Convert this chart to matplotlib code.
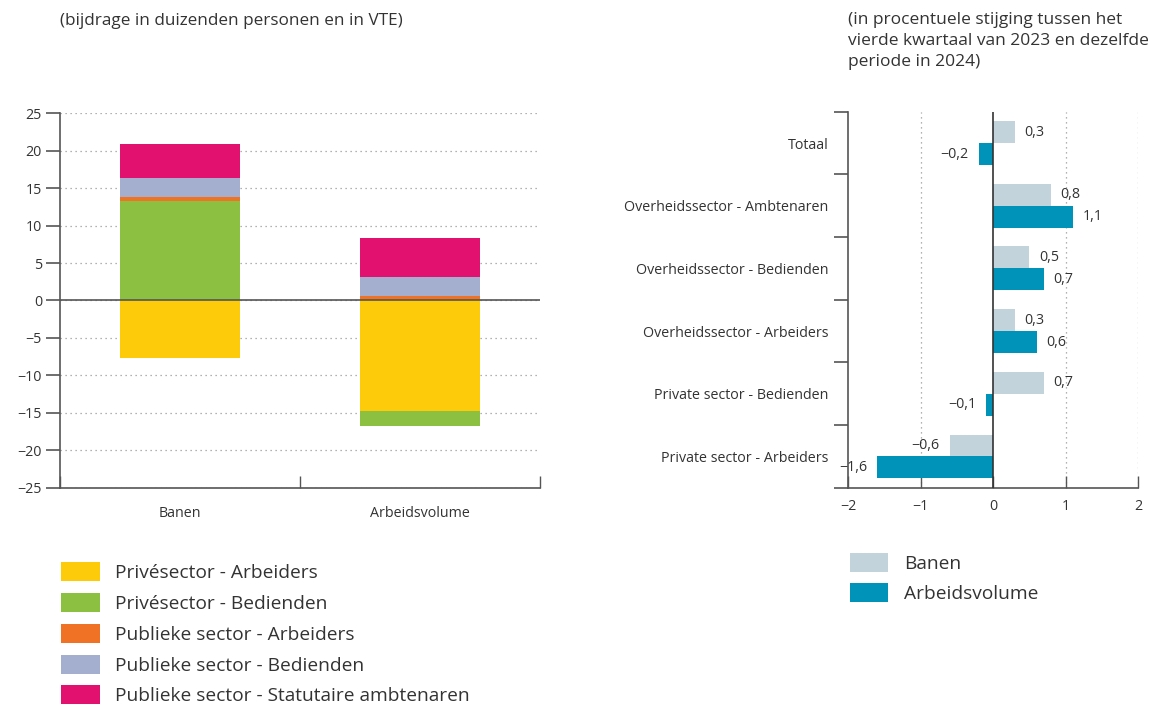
import matplotlib.pyplot as plt
from matplotlib.patches import Patch
import numpy as np

plt.rcParams['font.family'] = ['Open Sans', 'DejaVu Sans']

# left chart: contributions (thousands of persons / FTE)
groups = ['Banen', 'Arbeidsvolume']
series = ['Privésector - Arbeiders', 'Privésector - Bedienden',
          'Publieke sector - Arbeiders', 'Publieke sector - Bedienden',
          'Publieke sector - Statutaire ambtenaren']
priv_arb = [-7.7, -14.7]
priv_bed = [13.3, -2.0]
pub_arb = [0.5, 0.6]
pub_bed = [2.6, 2.5]
pub_stat = [4.5, 5.2]
colors_left = ['#FDCB0A', '#8BC040', '#F07225', '#A4AFD0', '#E2106F']

# right chart: percentage growth
categories = ['Totaal', 'Overheidssector - Ambtenaren', 'Overheidssector - Bedienden',
              'Overheidssector - Arbeiders', 'Private sector - Bedienden',
              'Private sector - Arbeiders']
banen = [0.3, 0.8, 0.5, 0.3, 0.7, -0.6]
volume = [-0.2, 1.1, 0.7, 0.6, -0.1, -1.6]
col_banen = '#C2D3DC'
col_volume = '#0093BA'

txt = '#333333'
spine_col = '#555555'
fs_tick = 10.3

fig = plt.figure(figsize=(11.53, 7.07), dpi=100)

# ---------------- left chart ----------------
ax = fig.add_axes([0.052, 0.310, 0.416, 0.530])
x = np.arange(len(groups))
pos_base = np.zeros(len(groups))
neg_base = np.zeros(len(groups))
for vals, c in zip([priv_arb, priv_bed, pub_arb, pub_bed, pub_stat], colors_left):
    vals = np.array(vals)
    base = np.where(vals >= 0, pos_base, neg_base)
    ax.bar(x, vals, 0.5, bottom=base, color=c, zorder=3)
    pos_base = pos_base + np.where(vals >= 0, vals, 0)
    neg_base = neg_base + np.where(vals < 0, vals, 0)

ax.set_xlim(-0.5, 1.5)
ax.set_ylim(-25, 25)
ax.set_yticks(np.arange(-25, 26, 5))
ax.set_yticklabels([str(v).replace('-', '\u2212') for v in range(-25, 26, 5)])
ax.yaxis.grid(True, linestyle=(0, (1, 3)), color='#999999', linewidth=0.9, zorder=0)
ax.axhline(0, color=spine_col, linewidth=1.2, zorder=4)
ax.set_xticks([-0.5, 0.5, 1.5])
ax.set_xticklabels([])
ax.set_xticks(x, minor=True)
ax.set_xticklabels(groups, minor=True)
ax.tick_params(axis='x', which='major', direction='in', length=9, color=spine_col, width=1)
ax.tick_params(axis='x', which='minor', length=0, pad=13, labelsize=fs_tick, labelcolor=txt)
ax.tick_params(axis='y', direction='out', length=10, color=spine_col, width=1.2,
               labelsize=fs_tick, labelcolor=txt, pad=3)
for s in ['top', 'right']:
    ax.spines[s].set_visible(False)
for s in ['left', 'bottom']:
    ax.spines[s].set_color(spine_col)
    ax.spines[s].set_linewidth(1.2)

fig.text(60 / 1153, 1 - 21 / 707, '(bijdrage in duizenden personen en in VTE)',
         fontsize=12.3, color=txt, va='center', ha='left')

handles = [Patch(facecolor=c, edgecolor='none') for c in colors_left]
fig.legend(handles, series, loc='upper left', bbox_to_anchor=(0.045, 0.218),
           frameon=False, fontsize=13.8, labelcolor=txt, handlelength=2.0,
           handleheight=1.15, handletextpad=0.8, labelspacing=0.56, borderpad=0)

# ---------------- right chart ----------------
ax2 = fig.add_axes([0.7355, 0.310, 0.2515, 0.532])
y = np.arange(len(categories))
h = 0.35
ax2.barh(y - h / 2, banen, h, color=col_banen, zorder=3)
ax2.barh(y + h / 2, volume, h, color=col_volume, zorder=3)
ax2.set_ylim(len(categories) - 0.5, -0.5)
ax2.set_xlim(-2, 2)

def fmt(v):
    s = f'{abs(v):.1f}'.replace('.', ',')
    return ('\u2212' + s) if v < 0 else s

for yy, v in zip(y - h / 2, banen):
    ax2.annotate(fmt(v), (v, yy), xytext=(7 if v >= 0 else -7, 0), textcoords='offset points',
                 ha='left' if v >= 0 else 'right', va='center', fontsize=fs_tick, color=txt)
for yy, v in zip(y + h / 2, volume):
    ax2.annotate(fmt(v), (v, yy), xytext=(7 if v >= 0 else -7, 0), textcoords='offset points',
                 ha='left' if v >= 0 else 'right', va='center', fontsize=fs_tick, color=txt)

ax2.set_yticks(y)
ax2.set_yticklabels(categories)
ax2.set_yticks(np.arange(-0.5, len(categories), 1), minor=True)
ax2.tick_params(axis='y', which='major', length=0, pad=14, labelsize=fs_tick, labelcolor=txt)
ax2.tick_params(axis='y', which='minor', direction='out', length=10, color=spine_col, width=1.2)
ax2.set_xticks([-2, -1, 0, 1, 2])
ax2.set_xticklabels(['\u22122', '\u22121', '0', '1', '2'])
ax2.tick_params(axis='x', direction='in', length=9, color=spine_col, width=1,
                labelsize=fs_tick, labelcolor=txt, pad=8)
for gx in [-1, 1, 2]:
    ax2.axvline(gx, color='#999999', linestyle=(0, (1, 3)), linewidth=0.9, zorder=0)
ax2.axvline(0, color='#333333', linewidth=1.2, zorder=4)
for s in ['top', 'right']:
    ax2.spines[s].set_visible(False)
for s in ['left', 'bottom']:
    ax2.spines[s].set_color(spine_col)
    ax2.spines[s].set_linewidth(1.2)

fig.text(848 / 1153, 1 - 12 / 707,
         '(in procentuele stijging tussen het\nvierde kwartaal van 2023 en dezelfde\nperiode in 2024)',
         fontsize=12.5, color=txt, va='top', ha='left', linespacing=1.42)

h2 = [Patch(facecolor=col_banen, edgecolor='none'), Patch(facecolor=col_volume, edgecolor='none')]
fig.legend(h2, ['Banen', 'Arbeidsvolume'], loc='upper left', bbox_to_anchor=(0.729, 0.232),
           frameon=False, fontsize=13.8, labelcolor=txt, handlelength=2.0,
           handleheight=1.15, handletextpad=0.8, labelspacing=0.56, borderpad=0)

fig.savefig('out.png', dpi=100)
